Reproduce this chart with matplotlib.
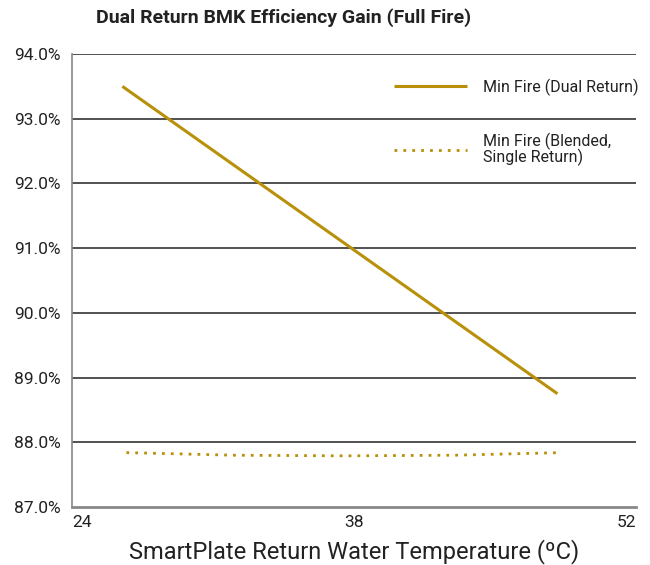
import matplotlib
matplotlib.use("Agg")
import matplotlib.pyplot as plt
from matplotlib.ticker import FuncFormatter

plt.rcParams['font.family'] = ['Roboto', 'DejaVu Sans']

title = "Dual Return BMK Efficiency Gain (Full Fire)"
xlabel = "SmartPlate Return Water Temperature (ºC)"

dual_x = [26.5, 48.1]
dual_y = [93.5, 88.75]
dual_label = "Min Fire (Dual Return)"

blend_x = [26.7, 32.0, 37.5, 43.0, 48.3]
blend_y = [87.84, 87.80, 87.79, 87.80, 87.84]
blend_label = "Min Fire (Blended,\nSingle Return)"

x_ticks = [24, 38, 52]
y_ticks = [87, 88, 89, 90, 91, 92, 93, 94]

gold = "#B8900A"

fig = plt.figure(figsize=(6.5, 5.65), dpi=100)
ax = fig.add_axes([0.1108, 0.1027, 0.8677, 0.8017])

ax.plot(dual_x, dual_y, color=gold, lw=2.2, label=dual_label, solid_capstyle='butt')
ax.plot(blend_x, blend_y, color=gold, lw=2.0, linestyle=(0, (1, 2.2)), label=blend_label)

ax.set_xlim(24, 52)
ax.set_ylim(87, 94)
ax.set_xticks(x_ticks)
ax.set_yticks(y_ticks)
ax.yaxis.set_major_formatter(FuncFormatter(lambda v, p: f"{v:.1f}%"))
ax.tick_params(length=0, labelsize=12.5, colors="#222222")
ax.tick_params(axis='y', pad=8)
ax.tick_params(axis='x', pad=6)
labels = ax.get_xticklabels()
labels[0].set_horizontalalignment('left')
labels[-1].set_horizontalalignment('right')

for v in y_ticks[1:]:
    ax.axhline(v, color="#222222", lw=1.1, zorder=0)

ax.spines['top'].set_visible(False)
ax.spines['right'].set_visible(False)
ax.spines['left'].set_color("#888888")
ax.spines['left'].set_linewidth(1.2)
ax.spines['bottom'].set_color("#888888")
ax.spines['bottom'].set_linewidth(2.0)

fig.text(284 / 650, 1 - 18 / 565, title, fontsize=14, fontweight='semibold',
         color="#222222", ha='center', va='center')
ax.set_xlabel(xlabel, fontsize=17, color="#222222", labelpad=6)

leg = ax.legend(loc='upper left', bbox_to_anchor=(0.545, 0.978), frameon=False,
                fontsize=11.5, handlelength=4.6, handletextpad=1.0,
                labelspacing=2.3, labelcolor="#222222")
leg.get_texts()[1].set_linespacing(0.95)

fig.savefig("out.png", dpi=100, facecolor='white')
